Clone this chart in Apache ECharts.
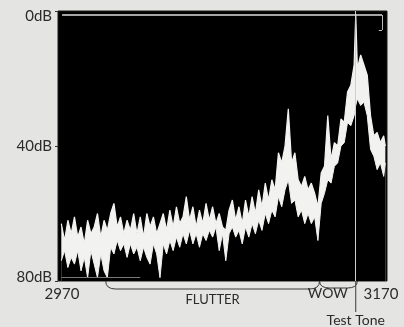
<!DOCTYPE html>
<html>
<head>
<meta charset="utf-8">
<script src="https://cdn.jsdelivr.net/npm/echarts@6/dist/echarts.min.js"></script>
<style>
  html, body { margin: 0; padding: 0; background: #e4e4e2; }
  #chart { width: 404px; height: 327px; }
</style>
</head>
<body>
<div id="chart"></div>
<script>
// spectrum around the 3150 Hz test tone; level in dB below reference
// the analyser trace is a noisy band, kept as its top and bottom edge
var freqs = [2972, 2974, 2976, 2978, 2980, 2982, 2984, 2986, 2988, 2990,
  2992, 2994, 2996, 2998, 3000, 3002, 3004, 3006, 3008, 3010,
  3012, 3014, 3016, 3018, 3020, 3022, 3024, 3026, 3028, 3030,
  3032, 3034, 3036, 3038, 3040, 3042, 3044, 3046, 3048, 3050,
  3052, 3054, 3056, 3058, 3060, 3062, 3064, 3066, 3068, 3070,
  3072, 3074, 3076, 3078, 3080, 3082, 3084, 3086, 3088, 3090,
  3092, 3094, 3096, 3098, 3100, 3102, 3104, 3106, 3108, 3110,
  3112, 3114, 3116, 3118, 3120, 3122, 3124, 3126, 3128, 3130,
  3132, 3134, 3136, 3138, 3140, 3142, 3144, 3146, 3148, 3150,
  3151, 3152, 3154, 3156, 3158, 3160, 3162, 3164, 3166, 3168, 3169];
var bandTop = [63, 68, 62, 66, 61, 67, 64, 69, 62, 66,
  64, 60, 67, 62, 65, 60, 57, 64, 61, 66,
  62, 65, 60, 66, 61, 67, 60, 64, 61, 66,
  63, 60, 65, 59, 64, 58, 63, 61, 55, 62,
  58, 64, 59, 63, 57, 62, 58, 63, 60, 64,
  65, 59, 56, 62, 58, 63, 56, 61, 55, 60,
  53, 58, 51, 56, 50, 53, 42, 45, 40, 29,
  45, 42, 50, 52, 49, 53, 51, 54, 58, 48,
  46, 31, 44, 39, 40, 32, 33, 24, 22, 16,
  1, 17, 13, 16, 19, 31, 37, 36, 39, 37, 40];
var bandBottom = [74, 71, 76, 73, 75, 71, 77, 73, 79, 71,
  75, 79, 72, 77, 79, 70, 72, 68, 71, 69,
  73, 69, 72, 70, 74, 70, 73, 75, 69, 72,
  79, 69, 72, 68, 71, 67, 70, 66, 69, 65,
  69, 66, 70, 66, 68, 65, 67, 64, 71, 66,
  74, 66, 64, 67, 65, 69, 64, 67, 63, 66,
  62, 65, 60, 63, 59, 61, 55, 58, 53, 50,
  57, 56, 61, 59, 63, 60, 63, 61, 68, 57,
  54, 50, 51, 46, 45, 40, 39, 33, 34, 31,
  28, 26, 28, 27, 31, 41, 43, 47, 45, 49, 45];

var yTicks = [0, 40, 80];
var xTicks = [2970, 3170];
var testTone = 3151;
var flutterBand = [2999, 3129];
var wowBand = [3129, 3152];

var topData = freqs.map(function (f, i) { return [f, bandTop[i]]; });
var bottomData = freqs.map(function (f, i) { return [f, bandBottom[i]]; });

var myChart = echarts.init(document.getElementById('chart'));
var labelFont = 'Lato, "Open Sans", sans-serif';
var ink = '#2b2b2b';

myChart.setOption({
  animation: false,
  backgroundColor: '#e4e4e2',
  grid: {
    left: 58, right: 17, top: 11, bottom: 46,
    show: true,
    backgroundColor: '#000',
    borderColor: '#1a1a1a',
    borderWidth: 1
  },
  xAxis: {
    type: 'value',
    min: 2970,
    max: 3170,
    splitLine: { show: false },
    axisLine: { show: false },
    axisTick: { show: false },
    axisLabel: {
      customValues: xTicks,
      margin: 6,
      formatter: function (v) {
        return v === xTicks[0] ? '{a|' + v + '}' : '{b|' + v + '}';
      },
      rich: {
        a: { fontFamily: labelFont, fontSize: 15, color: ink, padding: [0, 0, 0, 8] },
        b: { fontFamily: labelFont, fontSize: 15, color: ink, padding: [0, 12, 0, 0] }
      }
    }
  },
  yAxis: {
    type: 'value',
    inverse: true,
    min: 0,
    max: 80,
    interval: 40,
    splitLine: { show: false },
    axisLine: { show: false },
    axisTick: { show: true, length: 3, lineStyle: { color: '#333' } },
    axisLabel: {
      margin: 6,
      formatter: function (v) {
        if (v === yTicks[0]) return '{t|' + v + 'dB}';
        if (v === yTicks[2]) return '{u|' + v + 'dB}';
        return '{m|' + v + 'dB}';
      },
      rich: {
        t: { fontFamily: labelFont, fontSize: 15, color: ink, padding: [10, 0, 0, 0] },
        m: { fontFamily: labelFont, fontSize: 15, color: ink },
        u: { fontFamily: labelFont, fontSize: 15, color: ink, padding: [0, 0, 8, 0] }
      }
    }
  },
  series: [
    {
      // white from the top edge of the band down to the floor
      type: 'line',
      data: topData,
      symbol: 'none',
      z: 2,
      lineStyle: { color: '#f2f2f0', width: 1.2 },
      areaStyle: { color: '#f2f2f0', opacity: 1, origin: 'end' }
    },
    {
      // black again below the bottom edge
      type: 'line',
      data: bottomData,
      symbol: 'none',
      z: 3,
      lineStyle: { color: '#f2f2f0', width: 1 },
      areaStyle: { color: '#000', opacity: 1, origin: 'end' }
    },
    {
      // reference lines drawn by the analyser
      type: 'line',
      data: [],
      z: 4,
      markLine: {
        silent: true,
        symbol: 'none',
        label: { show: false },
        data: [
          { xAxis: testTone, lineStyle: { color: '#cfcfcf', width: 1, type: 'solid' } },
          [{ coord: [2972.5, 1.2], lineStyle: { color: '#dcdcdc', width: 1.5, type: 'solid' } }, { coord: [3167, 1.2] }],
          [{ coord: [3167, 1.2], lineStyle: { color: '#bbbbbb', width: 1, type: 'solid' } }, { coord: [3167, 5.6] }],
          [{ coord: [3167, 5.6], lineStyle: { color: '#bbbbbb', width: 1, type: 'solid' } }, { coord: [3165, 5.6] }],
          [{ coord: [2972, 79], lineStyle: { color: '#777', width: 1, type: 'solid' } }, { coord: [3020, 79] }]
        ]
      }
    }
  ]
});

// braces and annotations under the plot
function px(f) { return myChart.convertToPixel({ gridIndex: 0 }, [f, 80]); }
var base = px(2970)[1];
function brace(a, b, depth) {
  var x1 = px(a)[0], x2 = px(b)[0], y = base + depth;
  var st = { stroke: '#3a3a3a', lineWidth: 1, fill: null };
  return [
    { type: 'bezierCurve', shape: { x1: x1, y1: base, cpx1: x1, cpy1: y, x2: x1 + 10, y2: y }, style: st },
    { type: 'line', shape: { x1: x1 + 10, y1: y, x2: x2 - 10, y2: y }, style: st },
    { type: 'bezierCurve', shape: { x1: x2 - 10, y1: y, cpx1: x2, cpy1: y, x2: x2, y2: base }, style: st }
  ];
}
var tx = px(testTone)[0];

var graphics = brace(flutterBand[0], flutterBand[1], 8).concat(brace(wowBand[0], wowBand[1], 7));
graphics.push(
  { type: 'line', shape: { x1: tx, y1: base, x2: tx, y2: base + 31 }, style: { stroke: '#3a3a3a', lineWidth: 1 } },
  { type: 'text', x: px(3064)[0], y: 300, style: { text: 'FLUTTER', font: '13px ' + labelFont, fill: ink, textAlign: 'center', textVerticalAlign: 'middle' } },
  { type: 'text', x: px(3134)[0], y: 293, style: { text: 'WOW', font: '14px ' + labelFont, fill: ink, textAlign: 'center', textVerticalAlign: 'middle' } },
  { type: 'text', x: tx, y: 320, style: { text: 'Test Tone', font: '14px ' + labelFont, fill: ink, textAlign: 'center', textVerticalAlign: 'middle' } }
);
myChart.setOption({ graphic: graphics });
</script>
</body>
</html>
